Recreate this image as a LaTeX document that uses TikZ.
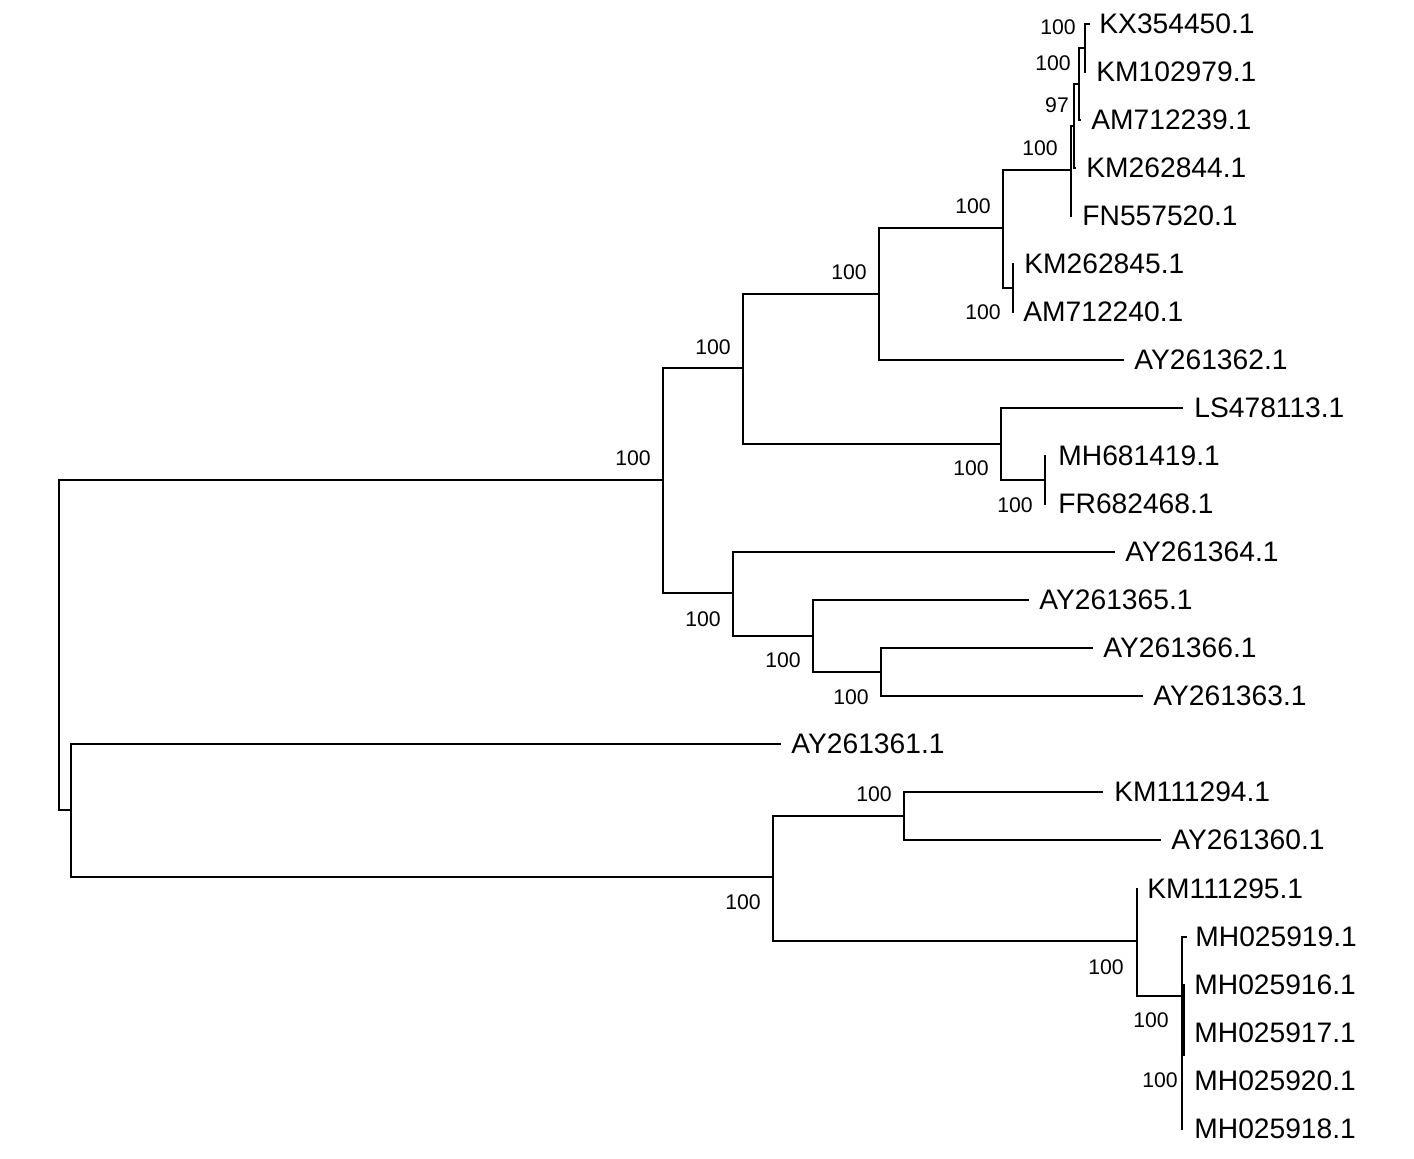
\documentclass[tikz,border=0pt]{standalone}
\usepackage{fontspec}
\setmainfont{Liberation Sans}
\begin{document}
\begin{tikzpicture}[x=0.5pt,y=-0.5pt,
  tree/.style={line width=1pt, line cap=rect, line join=miter},
  tiplabel/.style={anchor=west, inner sep=0pt, font=\fontsize{14.1}{15}\selectfont},
  bs/.style={inner sep=0pt, font=\fontsize{10.6}{12}\selectfont}]
\useasboundingbox (0,0) rectangle (1414,1158);
% internal nodes
\coordinate (R) at (59,645);
\coordinate (A) at (663,480);
\coordinate (A1) at (743,368);
\coordinate (A1a) at (879,294);
\coordinate (A1a1) at (1003,228);
\coordinate (n1) at (1071,170);
\coordinate (n3) at (1074,126);
\coordinate (n4) at (1079,84);
\coordinate (n5) at (1085,48);
\coordinate (n2) at (1013,288);
\coordinate (A1b) at (1001,444);
\coordinate (n6) at (1045,480);
\coordinate (A2) at (733,593);
\coordinate (n7) at (813,636);
\coordinate (n8) at (881,672);
\coordinate (B) at (71,810);
\coordinate (C) at (773,877);
\coordinate (D) at (904,816);
\coordinate (E) at (1137,941);
\coordinate (F) at (1182,996);
\coordinate (G1) at (1184,985);
\coordinate (G2) at (1184,1055);
% leaf ends
\coordinate (l1) at (1089,24);
\coordinate (l2) at (1085,72);
\coordinate (l3) at (1080,120);
\coordinate (l4) at (1075,168);
\coordinate (l5) at (1071,216);
\coordinate (l6) at (1013,264);
\coordinate (l7) at (1013,312);
\coordinate (l8) at (1123,360);
\coordinate (l9) at (1182,408);
\coordinate (l10) at (1045,456);
\coordinate (l11) at (1045,504);
\coordinate (l12) at (1114,552);
\coordinate (l13) at (1028,600);
\coordinate (l14) at (1092,648);
\coordinate (l15) at (1142,696);
\coordinate (l16) at (780,744);
\coordinate (l17) at (1102,792);
\coordinate (l18) at (1160,840);
\coordinate (l19) at (1137,889);
\coordinate (l20) at (1186,937);
\coordinate (l21) at (1182,985);
\coordinate (l22) at (1182,1033);
\coordinate (l23) at (1182,1081);
\coordinate (l24) at (1182,1129);
% leaf labels
\node[tiplabel] (t1) at (1099,24) {KX354450.1};
\node[tiplabel] (t2) at (1096,72) {KM102979.1};
\node[tiplabel] (t3) at (1091,120) {AM712239.1};
\node[tiplabel] (t4) at (1086,168) {KM262844.1};
\node[tiplabel] (t5) at (1082,216) {FN557520.1};
\node[tiplabel] (t6) at (1024,264) {KM262845.1};
\node[tiplabel] (t7) at (1023,312) {AM712240.1};
\node[tiplabel] (t8) at (1134,360) {AY261362.1};
\node[tiplabel] (t9) at (1194,408) {LS478113.1};
\node[tiplabel] (t10) at (1058,456) {MH681419.1};
\node[tiplabel] (t11) at (1058,504) {FR682468.1};
\node[tiplabel] (t12) at (1125,552) {AY261364.1};
\node[tiplabel] (t13) at (1039,600) {AY261365.1};
\node[tiplabel] (t14) at (1103,648) {AY261366.1};
\node[tiplabel] (t15) at (1153,696) {AY261363.1};
\node[tiplabel] (t16) at (791,744) {AY261361.1};
\node[tiplabel] (t17) at (1114,792) {KM111294.1};
\node[tiplabel] (t18) at (1171,840) {AY261360.1};
\node[tiplabel] (t19) at (1147,889) {KM111295.1};
\node[tiplabel] (t20) at (1195,937) {MH025919.1};
\node[tiplabel] (t21) at (1194,985) {MH025916.1};
\node[tiplabel] (t22) at (1194,1033) {MH025917.1};
\node[tiplabel] (t23) at (1194,1081) {MH025920.1};
\node[tiplabel] (t24) at (1194,1129) {MH025918.1};
% branches
\draw[tree] (R) |- (A);
\draw[tree] (R) |- (B);
\draw[tree] (A) |- (A1);
\draw[tree] (A) |- (A2);
\draw[tree] (A1) |- (A1a);
\draw[tree] (A1) |- (A1b);
\draw[tree] (A1a) |- (A1a1);
\draw[tree] (A1a) |- (l8);
\draw[tree] (A1a1) |- (n1);
\draw[tree] (A1a1) |- (n2);
\draw[tree] (n1) |- (n3);
\draw[tree] (n1) |- (l5);
\draw[tree] (n3) |- (n4);
\draw[tree] (n3) |- (l4);
\draw[tree] (n4) |- (n5);
\draw[tree] (n4) |- (l3);
\draw[tree] (n5) |- (l1);
\draw[tree] (n5) |- (l2);
\draw[tree] (n2) |- (l6);
\draw[tree] (n2) |- (l7);
\draw[tree] (A1b) |- (l9);
\draw[tree] (A1b) |- (n6);
\draw[tree] (n6) |- (l10);
\draw[tree] (n6) |- (l11);
\draw[tree] (A2) |- (l12);
\draw[tree] (A2) |- (n7);
\draw[tree] (n7) |- (l13);
\draw[tree] (n7) |- (n8);
\draw[tree] (n8) |- (l14);
\draw[tree] (n8) |- (l15);
\draw[tree] (B) |- (l16);
\draw[tree] (B) |- (C);
\draw[tree] (C) |- (D);
\draw[tree] (C) |- (E);
\draw[tree] (D) |- (l17);
\draw[tree] (D) |- (l18);
\draw[tree] (E) |- (l19);
\draw[tree] (E) |- (F);
\draw[tree] (F) |- (l20);
\draw[tree] (F) |- (l24);
\draw[tree] (G1) -- (G2);
% bootstrap values
\node[bs] (b1) at (1058,27) {100};
\node[bs] (b2) at (1053,63) {100};
\node[bs] (b3) at (1057,105) {97};
\node[bs] (b4) at (1040,148) {100};
\node[bs] (b5) at (973,206) {100};
\node[bs] (b6) at (849,272) {100};
\node[bs] (b7) at (713,347) {100};
\node[bs] (b8) at (633,458) {100};
\node[bs] (b9) at (983,312) {100};
\node[bs] (b10) at (971,468) {100};
\node[bs] (b11) at (1015,505) {100};
\node[bs] (b12) at (703,619) {100};
\node[bs] (b13) at (783,660) {100};
\node[bs] (b14) at (851,697) {100};
\node[bs] (b15) at (874,794) {100};
\node[bs] (b16) at (743,902) {100};
\node[bs] (b17) at (1106,967) {100};
\node[bs] (b18) at (1151,1020) {100};
\node[bs] (b19) at (1160,1080) {100};
\end{tikzpicture}
\end{document}
